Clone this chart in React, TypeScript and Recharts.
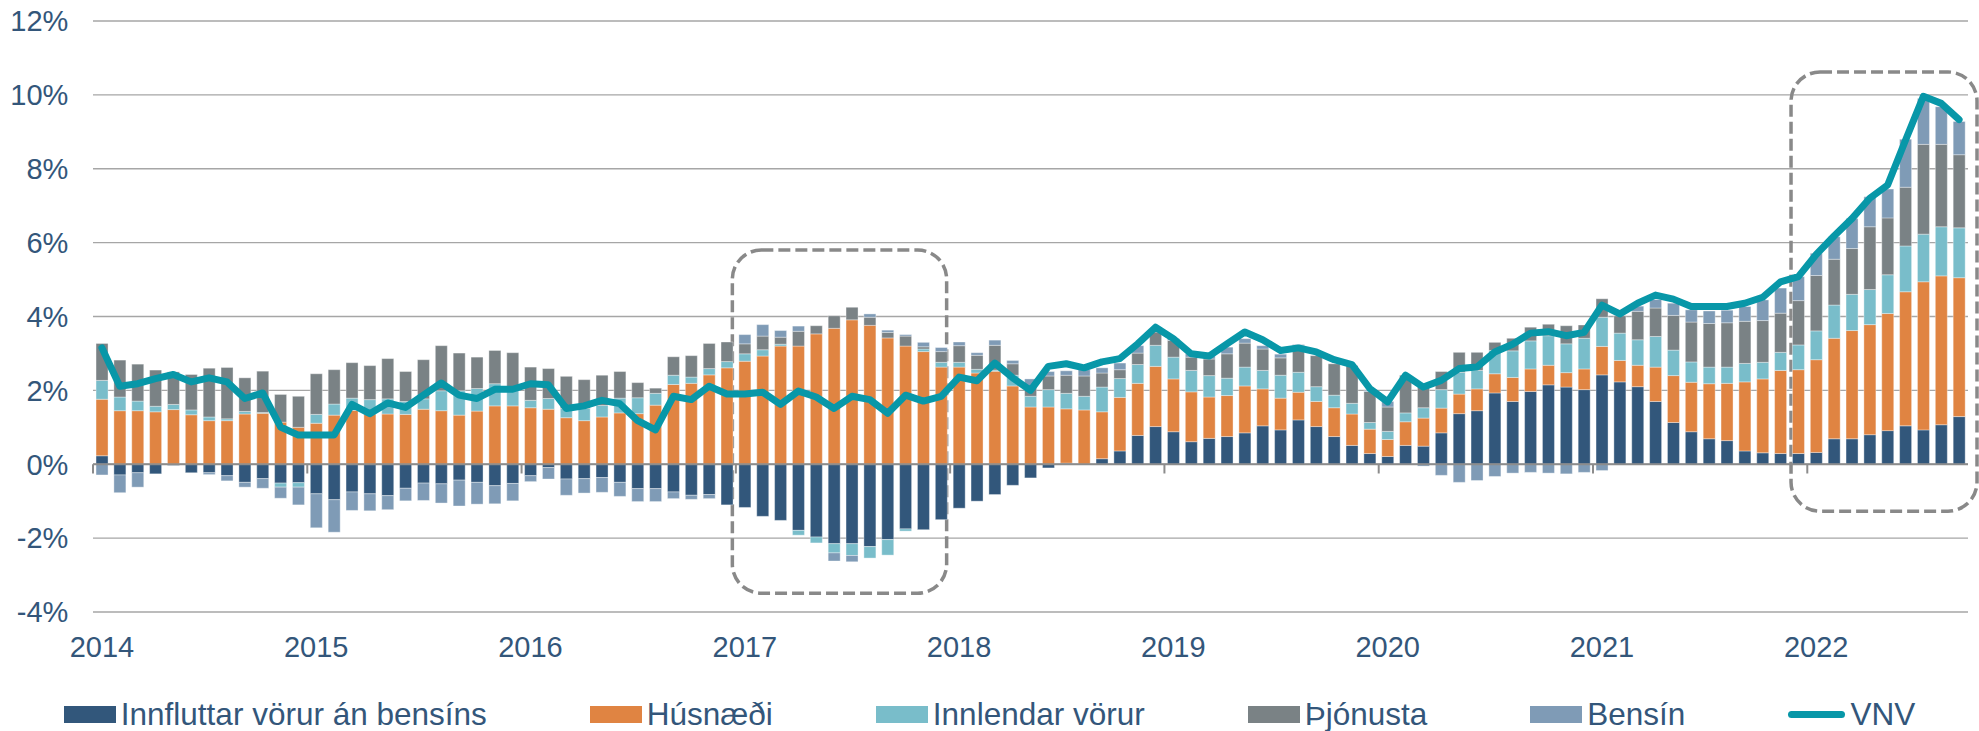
import React from 'react';
import {
  ComposedChart,
  Bar,
  Line,
  XAxis,
  YAxis,
  CartesianGrid,
  ReferenceLine,
  ReferenceArea,
} from 'recharts';

// Mánaðarleg framlög til verðbólgu (%), jan 2014 - sep 2022
const months: string[] = [];
for (let y = 2014; y <= 2022; y++) {
  for (let m = 1; m <= 12; m++) {
    if (y === 2022 && m > 9) break;
    months.push(`${y}-${String(m).padStart(2, '0')}`);
  }
}
const yearTicks = months.filter((m) => m.endsWith('-01'));
const yTicks = [-4, -2, 0, 2, 4, 6, 8, 10, 12];

const innfluttar = [
  0.23, -0.29, -0.23, -0.26, -0.03, -0.23, -0.23, -0.31, -0.49, -0.39, -0.51, -0.5, // 2014
  -0.8, -0.96, -0.75, -0.8, -0.85, -0.65, -0.51, -0.53, -0.43, -0.49, -0.58, -0.52, // 2015
  -0.31, -0.09, -0.4, -0.39, -0.36, -0.49, -0.66, -0.66, -0.75, -0.84, -0.82, -1.1, // 2016
  -1.17, -1.41, -1.52, -1.79, -1.97, -2.15, -2.15, -2.23, -2.04, -1.75, -1.77, -1.5, // 2017
  -1.19, -1.0, -0.82, -0.57, -0.37, -0.1, 0.03, 0.0, 0.15, 0.36, 0.78, 1.02, // 2018
  0.88, 0.61, 0.7, 0.75, 0.85, 1.04, 0.93, 1.2, 1.02, 0.75, 0.51, 0.29, // 2019
  0.21, 0.51, 0.49, 0.85, 1.37, 1.45, 1.93, 1.7, 1.97, 2.15, 2.09, 2.02, // 2020
  2.42, 2.23, 2.1, 1.7, 1.13, 0.88, 0.69, 0.64, 0.36, 0.31, 0.29, 0.29, // 2021
  0.32, 0.69, 0.69, 0.8, 0.91, 1.04, 0.93, 1.07, 1.29, // 2022
];

const husnaedi = [
  1.53, 1.45, 1.45, 1.42, 1.48, 1.34, 1.18, 1.18, 1.36, 1.38, 1.14, 1.0,
  1.11, 1.33, 1.46, 1.36, 1.36, 1.35, 1.49, 1.45, 1.33, 1.44, 1.58, 1.58,
  1.53, 1.49, 1.26, 1.18, 1.28, 1.39, 1.37, 1.6, 2.16, 2.19, 2.42, 2.61,
  2.79, 2.93, 3.2, 3.2, 3.53, 3.68, 3.91, 3.76, 3.42, 3.2, 3.05, 2.63,
  2.63, 2.47, 2.52, 2.12, 1.55, 1.55, 1.47, 1.47, 1.27, 1.45, 1.41, 1.63,
  1.43, 1.35, 1.12, 1.11, 1.27, 1.0, 0.86, 0.75, 0.68, 0.78, 0.85, 0.66,
  0.46, 0.64, 0.76, 0.67, 0.53, 0.59, 0.52, 0.65, 0.61, 0.53, 0.39, 0.56,
  0.77, 0.58, 0.58, 0.93, 1.27, 1.34, 1.49, 1.55, 1.87, 2.0, 2.25, 2.27,
  2.51, 2.72, 2.93, 2.98, 3.17, 3.63, 4.01, 4.03, 3.76,
];

const innlendar = [
  0.51, 0.37, 0.26, 0.15, 0.14, 0.13, 0.1, 0.05, 0.07, 0.02, -0.11, -0.12,
  0.24, 0.3, 0.33, 0.39, 0.41, 0.35, 0.28, 0.54, 0.66, 0.61, 0.6, 0.45,
  0.2, 0.29, 0.25, 0.33, 0.31, 0.4, 0.43, 0.32, 0.25, 0.17, 0.17, 0.17,
  0.2, 0.17, 0.05, -0.13, -0.16, -0.25, -0.32, -0.31, -0.42, -0.06, 0.07, 0.13,
  0.13, 0.1, 0.03, 0.29, 0.29, 0.47, 0.42, 0.37, 0.67, 0.51, 0.51, 0.57,
  0.59, 0.58, 0.58, 0.47, 0.51, 0.5, 0.62, 0.54, 0.4, 0.34, 0.29, 0.18,
  0.22, 0.24, 0.28, 0.5, 0.59, 0.5, 0.63, 0.72, 0.76, 0.8, 0.78, 0.83,
  0.79, 0.74, 0.69, 0.83, 0.69, 0.55, 0.45, 0.44, 0.5, 0.45, 0.49, 0.67,
  0.78, 0.9, 0.98, 0.95, 1.05, 1.24, 1.29, 1.33, 1.35,
];

const thjonusta = [
  1.0, 1.0, 1.0, 0.98, 0.88, 0.96, 1.32, 1.39, 0.91, 1.12, 0.75, 0.84,
  1.1, 0.93, 0.96, 0.92, 1.09, 0.81, 1.06, 1.22, 1.02, 0.85, 0.9, 0.99,
  0.9, 0.81, 0.87, 0.78, 0.82, 0.72, 0.41, 0.14, 0.5, 0.58, 0.68, 0.53,
  0.27, 0.37, 0.19, 0.4, 0.22, 0.34, 0.34, 0.22, 0.15, 0.27, 0.06, 0.29,
  0.45, 0.38, 0.67, 0.31, 0.25, 0.37, 0.49, 0.55, 0.38, 0.24, 0.31, 0.36,
  0.45, 0.36, 0.45, 0.66, 0.65, 0.58, 0.47, 0.72, 0.84, 0.85, 1.02, 0.84,
  0.66, 1.02, 0.65, 0.49, 0.54, 0.49, 0.22, 0.34, 0.37, 0.31, 0.49, 0.36,
  0.5, 0.47, 0.77, 0.77, 0.94, 1.08, 1.18, 1.2, 1.14, 1.13, 1.06, 1.2,
  1.5, 1.24, 1.24, 1.7, 1.54, 1.59, 2.43, 2.23, 1.98,
];

const bensin = [
  -0.29, -0.48, -0.39, 0, 0, 0, -0.05, -0.14, -0.13, -0.26, -0.3, -0.48,
  -0.92, -0.88, -0.5, -0.46, -0.38, -0.34, -0.47, -0.52, -0.7, -0.59, -0.49, -0.47,
  -0.16, -0.31, -0.44, -0.39, -0.4, -0.38, -0.35, -0.35, -0.18, -0.11, -0.11, 0,
  0.25, 0.31, 0.18, 0.14, 0, -0.22, -0.17, 0.09, 0.06, 0.04, 0.12, 0.11,
  0.1, 0.07, 0.14, 0.09, 0.22, 0.12, 0.12, 0.17, 0.14, 0.18, 0.2, 0.05,
  0.05, 0.09, 0.09, 0.18, 0.12, 0.09, 0.1, 0.03, 0, 0, 0, 0.03,
  0.15, 0, -0.05, -0.3, -0.49, -0.44, -0.33, -0.24, -0.22, -0.24, -0.26, -0.22,
  -0.17, 0, 0.14, 0.23, 0.33, 0.33, 0.34, 0.34, 0.4, 0.56, 0.68, 0.65,
  0.6, 0.61, 0.81, 0.81, 0.78, 1.3, 1.24, 1.02, 0.9,
];

const vnv = [
  3.15, 2.11, 2.18, 2.32, 2.43, 2.23, 2.34, 2.23, 1.78, 1.93, 1.01, 0.79,
  0.79, 0.79, 1.62, 1.37, 1.66, 1.54, 1.87, 2.2, 1.87, 1.78, 2.03, 2.03,
  2.18, 2.15, 1.51, 1.58, 1.73, 1.64, 1.18, 0.93, 1.84, 1.75, 2.11, 1.9,
  1.9, 1.95, 1.62, 1.98, 1.82, 1.51, 1.84, 1.75, 1.38, 1.87, 1.71, 1.84,
  2.36, 2.26, 2.74, 2.34, 2.0, 2.65, 2.72, 2.61, 2.77, 2.86, 3.26, 3.71,
  3.4, 2.99, 2.93, 3.26, 3.58, 3.37, 3.08, 3.15, 3.04, 2.83, 2.7, 2.05,
  1.69, 2.41, 2.09, 2.27, 2.59, 2.63, 3.04, 3.25, 3.55, 3.59, 3.48, 3.57,
  4.31, 4.07, 4.36, 4.58, 4.47, 4.27, 4.27, 4.27, 4.36, 4.52, 4.94, 5.08,
  5.68, 6.18, 6.65, 7.2, 7.56, 8.77, 9.96, 9.77, 9.33,
];

const TEXT = '#33567a';
const AXIS = '#8c8c8c';

const series = [
  { key: 'innfluttar', name: 'Innfluttar vörur án bensíns', color: '#32577b' },
  { key: 'husnaedi', name: 'Húsnæði', color: '#e08442' },
  { key: 'innlendar', name: 'Innlendar vörur', color: '#79bdca' },
  { key: 'thjonusta', name: 'Þjónusta', color: '#7a8285' },
  { key: 'bensin', name: 'Bensín', color: '#7f9bb6' },
];
const lineColor = '#0897a8';

const data = months.map((month, i) => ({
  month,
  innfluttar: innfluttar[i],
  husnaedi: husnaedi[i],
  innlendar: innlendar[i],
  thjonusta: thjonusta[i],
  bensin: bensin[i],
  vnv: vnv[i],
}));

// dashed rounded highlight box, slightly nudged from the band edges
const dashedBox = (dx: number, dw: number) => (props: any) => (
  <rect
    x={props.x + dx}
    y={props.y}
    width={props.width + dw}
    height={props.height}
    rx={29}
    ry={29}
    fill="none"
    stroke="#898989"
    strokeWidth={3.5}
    strokeDasharray="12 5"
  />
);

function LegendRow() {
  return (
    <div
      style={{
        position: 'absolute',
        left: 0,
        top: 696,
        width: 1979,
        height: 36,
        display: 'flex',
        justifyContent: 'center',
        alignItems: 'center',
        gap: 103,
        fontSize: 31.5,
        lineHeight: '36px',
        color: TEXT,
        whiteSpace: 'nowrap',
      }}
    >
      {series.map((s) => (
        <div key={s.key} style={{ display: 'flex', alignItems: 'center' }}>
          <span style={{ width: 52, height: 17, background: s.color, marginRight: 5, display: 'inline-block' }} />
          <span>{s.name}</span>
        </div>
      ))}
      <div style={{ display: 'flex', alignItems: 'center' }}>
        <span
          style={{ width: 57, height: 7, borderRadius: 3.5, background: lineColor, marginRight: 5, display: 'inline-block' }}
        />
        <span>VNV</span>
      </div>
    </div>
  );
}

export default function App() {
  return (
    <div
      style={{
        position: 'absolute',
        left: 0,
        top: 0,
        width: 1979,
        height: 731,
        background: '#fff',
        overflow: 'hidden',
        fontFamily: '"Liberation Sans", Arial, sans-serif',
      }}
    >
      <ComposedChart
        width={1979}
        height={731}
        data={data}
        stackOffset="sign"
        barCategoryGap="17%"
        margin={{ top: 21, right: 11, bottom: 0, left: 0 }}
      >
        <CartesianGrid vertical={false} stroke="#a6a6a6" strokeWidth={1.3} />
        <XAxis
          dataKey="month"
          ticks={yearTicks}
          interval={0}
          tickFormatter={(m: string) => m.slice(0, 4)}
          axisLine={false}
          tickLine={false}
          tickSize={0}
          tickMargin={24}
          height={119}
          tick={{ fill: TEXT, fontSize: 29 }}
        />
        <YAxis
          domain={[-4, 12]}
          ticks={yTicks}
          allowDataOverflow
          tickFormatter={(v: number) => `${v}%`}
          axisLine={false}
          tickLine={false}
          tickSize={0}
          tickMargin={24.6}
          width={93}
          tick={{ fill: TEXT, fontSize: 29 }}
        />
        {series.map((s) => (
          <Bar
            key={s.key}
            dataKey={s.key}
            name={s.name}
            stackId="a"
            fill={s.color}
            stroke="#ffffff"
            strokeOpacity={0.45}
            strokeWidth={0.8}
            isAnimationActive={false}
          />
        ))}
        <ReferenceLine y={0} stroke={AXIS} strokeWidth={2} />
        {yearTicks.map((m) => (
          <ReferenceLine
            key={m}
            segment={[
              { x: m, y: 0 },
              { x: m, y: -0.25 },
            ]}
            position="start"
            stroke={AXIS}
            strokeWidth={2}
          />
        ))}
        <Line
          type="linear"
          dataKey="vnv"
          name="VNV"
          stroke={lineColor}
          strokeWidth={7}
          strokeLinejoin="round"
          strokeLinecap="round"
          dot={false}
          activeDot={false}
          isAnimationActive={false}
        />
        <ReferenceArea
          x1="2017-01"
          x2="2017-12"
          y1={-3.49}
          y2={5.8}
          ifOverflow="visible"
          shape={dashedBox(-3.5, 0)}
        />
        <ReferenceArea
          x1="2021-12"
          x2="2022-09"
          y1={-1.27}
          y2={10.62}
          ifOverflow="visible"
          shape={dashedBox(1.6, 7.4)}
        />
      </ComposedChart>
      <LegendRow />
    </div>
  );
}
